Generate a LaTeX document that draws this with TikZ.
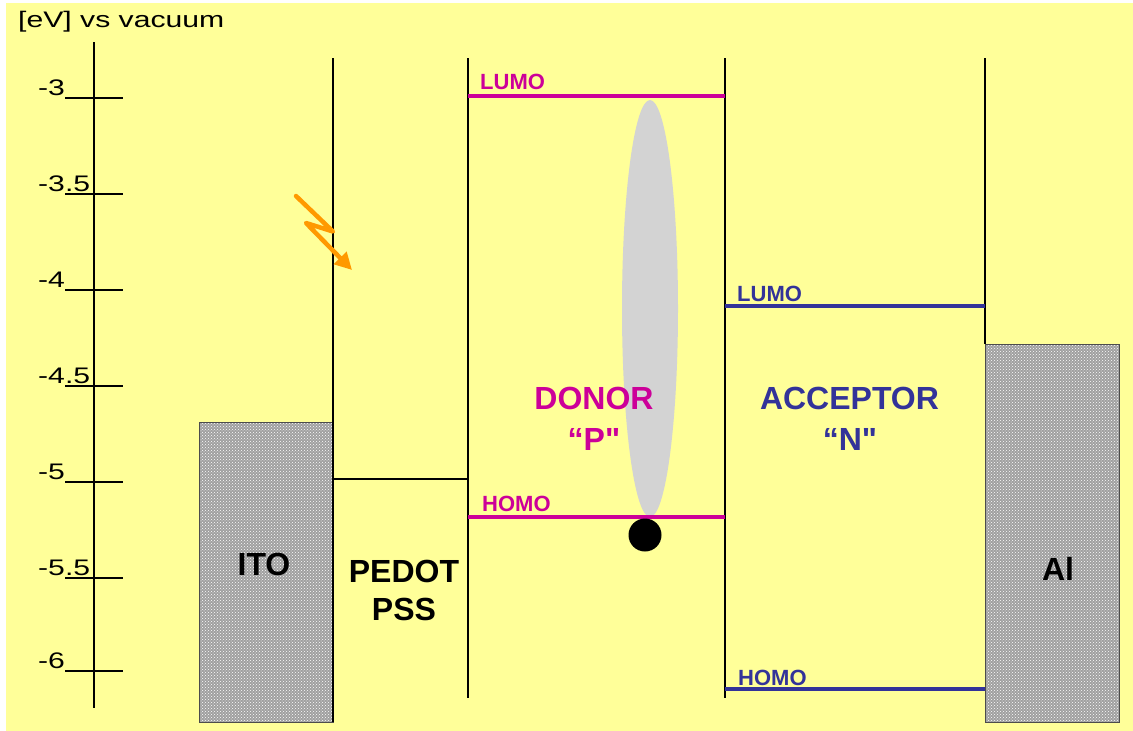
\documentclass[tikz,border=0pt]{standalone}
\usepackage{fontspec}
\setmainfont{Liberation Sans}[Ligatures=TeXOff]
\usetikzlibrary{arrows.meta,patterns}
\definecolor{bgyellow}{HTML}{FFFF99}
\definecolor{donorc}{HTML}{CC0099}
\definecolor{accc}{HTML}{333399}
\definecolor{flash}{HTML}{FF9900}
\definecolor{metalgray}{HTML}{A0A0A0}
\definecolor{excgray}{HTML}{D3D3D3}
\begin{document}
\begin{tikzpicture}[x=1pt,y=-1pt,
  axislab/.style={font=\fontsize{22.5}{25}\selectfont, anchor=base west, inner sep=0pt},
  layerline/.style={line width=1.4pt, black},
  donorlevel/.style={line width=3.5pt, donorc},
  acclevel/.style={line width=3.5pt, accc},
  levellab/.style={font=\fontsize{22}{24}\selectfont\bfseries, anchor=base west, inner sep=0pt},
  biglab/.style={font=\fontsize{32}{36}\selectfont\bfseries, anchor=base, inner sep=0pt},
  metal/.style={draw=black!70, line width=1pt}
]
\useasboundingbox (0,0) rectangle (1133,731);
\fill[bgyellow] (6,3) rectangle (1133,731);

% axis
\node[axislab] (title) at (18,27) {\scalebox{1.34}[1]{[eV] vs vacuum}};
\coordinate (axtop) at (94,42);
\coordinate (axbot) at (94,708);
\draw[layerline] (axtop) -- (axbot);
\foreach \y/\t [count=\i] in {98/-3,194/-3.5,290/-4,386/-4.5,482/-5,578/-5.5,671/-6} {
  \coordinate (tl\i) at (65,\y);
  \coordinate (tr\i) at (123,\y);
  \draw[line width=1.2pt] (tl\i) -- (tr\i);
  \node[axislab] (tick\i) at (38,\y-3) {\scalebox{1.34}[1]{\t}};
}

% metal contacts
\fill[metalgray] (199,422) rectangle (333,722);
\fill[pattern=crosshatch dots, pattern color=white] (199,422) rectangle (333,722);
\draw[metal] (199,422) rectangle (333,722);
\fill[metalgray] (985,344) rectangle (1119,722);
\fill[pattern=crosshatch dots, pattern color=white] (985,344) rectangle (1119,722);
\draw[metal] (985,344) rectangle (1119,722);

% layer boundaries
\coordinate (b1t) at (333,58);  \coordinate (b1b) at (333,722);
\coordinate (b2t) at (468,58);  \coordinate (b2b) at (468,698);
\coordinate (b3t) at (725,58);  \coordinate (b3b) at (725,698);
\coordinate (b4t) at (985,58);  \coordinate (b4b) at (985,344);
\draw[layerline] (b1t) -- (b1b);
\draw[layerline] (b2t) -- (b2b);
\draw[layerline] (b3t) -- (b3b);
\draw[layerline] (b4t) -- (b4b);

% PEDOT level
\coordinate (pl) at (333,479); \coordinate (pr) at (468,479);
\draw[layerline] (pl) -- (pr);

% exciton ellipse
\fill[excgray] (650,308.5) ellipse [x radius=28, y radius=208.5];

% donor levels
\coordinate (dlumoL) at (468,96);  \coordinate (dlumoR) at (725,96);
\coordinate (dhomoL) at (468,517); \coordinate (dhomoR) at (725,517);
\draw[donorlevel] (dlumoL) -- (dlumoR);
\draw[donorlevel] (dhomoL) -- (dhomoR);
\node[levellab, text=donorc] (dlumo) at (480,89) {LUMO};
\node[levellab, text=donorc] (dhomo) at (482,511) {HOMO};

% acceptor levels
\coordinate (alumoL) at (725,306); \coordinate (alumoR) at (985,306);
\coordinate (ahomoL) at (725,689); \coordinate (ahomoR) at (985,689);
\draw[acclevel] (alumoL) -- (alumoR);
\draw[acclevel] (ahomoL) -- (ahomoR);
\node[levellab, text=accc] (alumo) at (737,301) {LUMO};
\node[levellab, text=accc] (ahomo) at (738,685) {HOMO};

% hole
\fill[black] (645,535) circle [radius=16.5];

% light flash
\coordinate (f1) at (296,196);
\coordinate (f2) at (333,231.5);
\coordinate (f3) at (306,223);
\coordinate (f4) at (352,270);
\draw[flash, line width=4.5pt, line cap=round, line join=round,
  -{Triangle[length=17pt,width=17pt]}] (f1) -- (f2) -- (f3) -- (f4);

% labels
\node[biglab] (ito) at (264,575) {ITO};
\node[biglab] (pedot) at (404,582) {PEDOT};
\node[biglab] (pss) at (404,620) {PSS};
\node[biglab, text=donorc] (donor) at (594,409) {DONOR};
\node[biglab, text=donorc] (pq) at (594,450) {“P"};
\node[biglab, text=accc] (acceptor) at (849.5,409) {ACCEPTOR};
\node[biglab, text=accc] (nq) at (850,450) {“N"};
\node[biglab] (al) at (1058,580) {Al};
\end{tikzpicture}
\end{document}
